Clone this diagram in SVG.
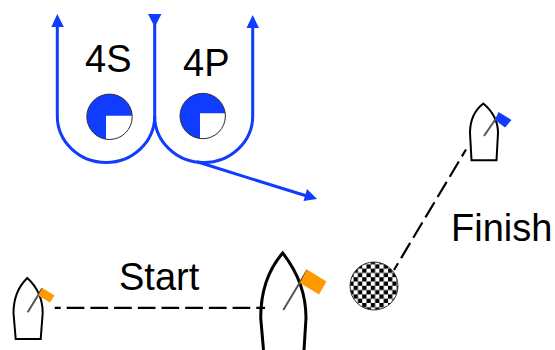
<svg xmlns="http://www.w3.org/2000/svg" width="555" height="350" viewBox="0 0 555 350">
<style>
text{font-family:"Liberation Sans",Arial,sans-serif;fill:#000}
.t{stroke:#0f3cff;stroke-width:3;fill:none}
.hull{fill:#fff;stroke:#000;stroke-width:2}
.mast{stroke:#555;stroke-width:2;fill:none}
.dash{stroke:#000;stroke-width:2.200;stroke-dasharray:17.700 6;fill:none}
.ar{fill:#0f3cff}
.ring{stroke:#333;stroke-width:1;fill:none}
</style>
<defs>
<pattern id="chk" width="8.600" height="8.600" patternUnits="userSpaceOnUse" x="1" y="2">
<rect width="8.600" height="8.600" fill="#fff"/>
<rect width="4.300" height="4.300" fill="#000"/>
<rect x="4.300" y="4.300" width="4.300" height="4.300" fill="#000"/>
</pattern>
</defs>
<g id="mark-4s">
<circle cx="109.500" cy="116.800" r="22.700" fill="#0f3cff"/>
<path d="M106 115.700H132.200A22.700 22.700 0 0 1 106 139.300Z" fill="#fff"/>
<circle class="ring" cx="109.500" cy="116.800" r="22.700"/>
</g>
<g id="mark-4p">
<circle cx="202.700" cy="116" r="22.700" fill="#0f3cff"/>
<path d="M200 113.300H225.300A22.700 22.700 0 0 1 200 138.500Z" fill="#fff"/>
<circle class="ring" cx="202.700" cy="116" r="22.700"/>
</g>
<g id="label-4s"><text x="85" y="71.500" font-size="38">4S</text></g>
<g id="label-4p"><text x="183" y="76" font-size="38">4P</text></g>
<g id="boat-start-left">
<path class="hull" d="M27.300 278C18 287 13.500 298 13.500 313L15.700 339H40.700L42.700 313C42.700 298 36 286 27.300 278Z"/>
<path class="mast" d="M27.700 312.300L42.300 288.300"/>
<path d="M42.300 288L54.500 295.500L50 302.500L38.500 295.700Z" fill="#ff9900"/>
</g>
<g id="boat-start-right">
<path d="M263.500 350L260.700 318C260.700 290 268 270 282.700 253C296 270 306 290 306 318L304 350" fill="none" stroke="#000" stroke-width="3"/>
<path class="mast" d="M283.300 310L307.300 270"/>
<path d="M307 269.500L326.500 281.500L319 294.500L300 283Z" fill="#ff9900"/>
</g>
<g id="boat-finish">
<path class="hull" d="M483.300 103.500C475 110 470 120 470 133L471.500 160.300H496.500L498 133C498 120 491 110 483.300 103.500Z"/>
<path class="mast" d="M484 136L497 117"/>
<path d="M498.500 112L511.500 120L505 127.500L495 120Z" fill="#0f3cff"/>
</g>
<g id="finish-mark">
<circle cx="374" cy="286" r="24" fill="url(#chk)" stroke="#333" stroke-width="1"/>
</g>
<g id="connectors">
<path class="t" d="M57.300 24V116A48.700 46.500 0 0 0 154.700 116V24"/>
<path class="t" d="M154.700 116A49 46.500 0 0 0 252.700 116V24"/>
<path class="t" d="M197 161.800L306 195.800"/>
<path class="ar" d="M57.300 14L63.800 27H51.300Z"/>
<path class="ar" d="M154.700 27L148 14H161.500Z"/>
<path class="ar" d="M252.700 15L259 28H246.500Z"/>
<path class="ar" d="M317 199L303.500 201L307 189Z"/>
<path class="dash" d="M54.700 307.800H265" stroke-dashoffset="11.700"/>
<path class="dash" d="M466 149.500L394 270" stroke-dashoffset="9.700"/>
</g>
<g id="label-start"><text x="119" y="290" font-size="38">Start</text></g>
<g id="label-finish"><text x="451" y="240.500" font-size="38">Finish</text></g>
</svg>
